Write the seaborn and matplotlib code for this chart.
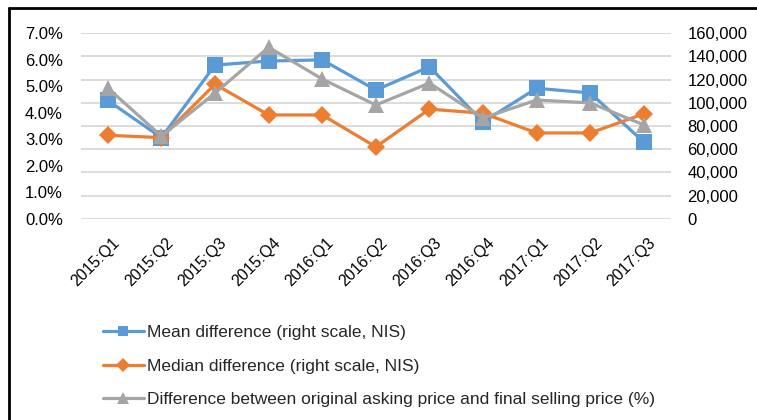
import numpy as np
import pandas as pd
import matplotlib.pyplot as plt
import seaborn as sns
from matplotlib.lines import Line2D
from matplotlib.ticker import FuncFormatter
from matplotlib.transforms import ScaledTranslation

# data
quarters = ["2015:Q1", "2015:Q2", "2015:Q3", "2015:Q4", "2016:Q1", "2016:Q2",
            "2016:Q3", "2016:Q4", "2017:Q1", "2017:Q2", "2017:Q3"]
mean_diff = [102000, 70000, 132500, 136000, 137000, 111000, 131000, 83500, 112500, 108500, 66000]
median_diff = [72000, 70000, 116000, 89500, 89500, 62000, 94500, 91000, 74000, 74000, 90500]
pct_diff = [4.93, 3.12, 4.74, 6.47, 5.27, 4.29, 5.12, 3.80, 4.48, 4.37, 3.54]

labels = ["Mean difference (right scale, NIS)",
          "Median difference (right scale, NIS)",
          "Difference between original asking price and final selling price (%)"]

df = pd.DataFrame({"quarter": quarters, "mean": mean_diff,
                   "median": median_diff, "pct": pct_diff})

sns.set_theme(style="white")
plt.rcParams["font.family"] = ["Liberation Sans", "DejaVu Sans"]

fig = plt.figure(figsize=(7.57, 4.2), dpi=100)
ax = fig.add_axes([0.107, 0.479, 0.779, 0.442])   # left scale (%)
ax2 = ax.twinx()                                    # right scale (NIS)

blue, orange, grey = "#5B9BD5", "#ED7D31", "#A5A5A5"

sns.lineplot(data=df, x="quarter", y="mean", ax=ax2, color=blue, lw=2.3,
             marker="s", markersize=11, markeredgewidth=0, label=labels[0], legend=False)
sns.lineplot(data=df, x="quarter", y="median", ax=ax2, color=orange, lw=2.3,
             marker="D", markersize=9.5, markeredgewidth=0, label=labels[1], legend=False)
sns.lineplot(data=df, x="quarter", y="pct", ax=ax, color=grey, lw=2.3,
             marker="^", markersize=12, markeredgewidth=0, label=labels[2], legend=False)

# grey series on top
ax.set_zorder(ax2.get_zorder() + 1)
ax.patch.set_visible(False)

ax.set_xlim(-0.5, len(quarters) - 0.5)
ax.set_ylim(0, 7)
ax.set_yticks(np.arange(0, 8, 1))
ax.yaxis.set_major_formatter(FuncFormatter(lambda v, p: f"{v:.1f}%"))
ax2.set_ylim(0, 160000)
ax2.set_yticks(np.arange(0, 160001, 20000))
ax2.yaxis.set_major_formatter(FuncFormatter(lambda v, p: f"{v:,.0f}"))

ax.set_xlabel("")
ax.set_ylabel("")
ax2.set_ylabel("")
ax.grid(False)
ax2.grid(False)
ax2.yaxis.grid(True, color="#d9d9d9", lw=1.3)

for a in (ax, ax2):
    for s in a.spines.values():
        s.set_visible(False)

ax.tick_params(axis="y", length=0, pad=13, labelsize=12, colors="black")
ax2.tick_params(axis="y", length=0, pad=12, labelsize=12, colors="black")
ax.tick_params(axis="x", length=0, pad=12, labelsize=11.5, colors="black")
shift = ScaledTranslation(4 / 100, 0, fig.dpi_scale_trans)
for t in ax.get_xticklabels():
    t.set_rotation(45)
    t.set_ha("right")
    t.set_rotation_mode("anchor")
    t.set_transform(t.get_transform() + shift)

# legend below the chart
h1, l1 = ax2.get_legend_handles_labels()
h2, l2 = ax.get_legend_handles_labels()
fig.legend(h1 + h2, l1 + l2, loc="upper left", bbox_to_anchor=(0.136, 0.226),
           frameon=False, fontsize=12.5, handlelength=2.35, handletextpad=0.17,
           labelspacing=1.06, borderpad=0, borderaxespad=0, markerscale=0.7)

# outer frame (left and top edge only)
fig.add_artist(Line2D([0.012, 0.012], [0, 0.981], color="black", lw=2))
fig.add_artist(Line2D([0.012, 1], [0.981, 0.981], color="black", lw=2))

fig.savefig("out.png", dpi=100)
